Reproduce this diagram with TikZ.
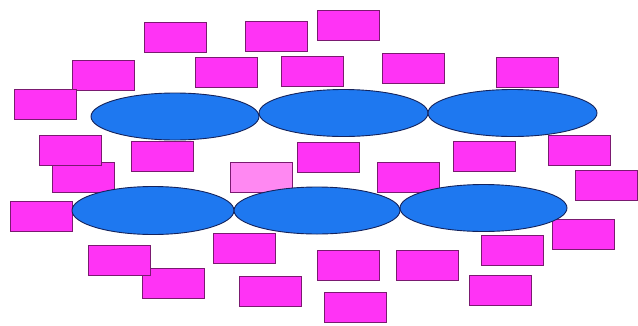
\documentclass[tikz,border=0pt]{standalone}
\usetikzlibrary{shapes.geometric}

\definecolor{tilepink}{HTML}{FF33F5}
\definecolor{tilepale}{HTML}{FF88F2}
\definecolor{tileedge}{HTML}{7A1A70}
\definecolor{blobblue}{HTML}{1E78F0}
\definecolor{blobedge}{HTML}{14235C}

\begin{document}
\begin{tikzpicture}[
    x=1pt, y=-1pt,
    tile/.style={rectangle, draw=tileedge, fill=tilepink, line width=0.9pt, inner sep=0pt, minimum width=62pt, minimum height=30pt},
    paletile/.style={tile, fill=tilepale},
    blob/.style={ellipse, draw=blobedge, fill=blobblue, line width=0.9pt, inner sep=0pt, minimum height=47pt}
]
\useasboundingbox (0,0) rectangle (638,325);

% tiles, top rows
\node[tile] (r1) at (175,37.5) {};
\node[tile] (r2) at (276,36.5) {};
\node[tile] (r3) at (348.5,25.5) {};
\node[tile] (r4) at (103.5,75.5) {};
\node[tile] (r5) at (226.5,72.5) {};
\node[tile] (r6) at (312,71) {};
\node[tile] (r7) at (413.5,68) {};
\node[tile] (r8) at (527,72.5) {};
\node[tile] (r9) at (45,104) {};

% tiles between the two rows
\node[tile] (r11) at (83,177.5) {};
\node[tile] (r10) at (70,150.5) {};
\node[tile] (r12) at (162,156) {};
\node[paletile] (r13) at (261,177.5) {};
\node[tile] (r14) at (328,157) {};
\node[tile] (r15) at (408.5,177.5) {};
\node[tile] (r16) at (484.5,156.5) {};
\node[tile] (r17) at (579,150.5) {};
\node[tile] (r18) at (606,185) {};

% tiles, bottom rows
\node[tile] (r19) at (41,216.5) {};
\node[tile] (r21) at (173,283.5) {};
\node[tile] (r20) at (119.5,260) {};
\node[tile] (r22) at (244.5,248.5) {};
\node[tile] (r23) at (270,291.5) {};
\node[tile] (r24) at (348.5,265.5) {};
\node[tile] (r25) at (355.5,307.5) {};
\node[tile] (r26) at (427.5,265.5) {};
\node[tile] (r27) at (512,250.5) {};
\node[tile] (r28) at (500,290) {};
\node[tile] (r29) at (583.5,234) {};

% blobs on top
\node[blob, minimum width=168pt] (t1) at (175,116.5) {};
\node[blob, minimum width=169pt] (t2) at (343.5,113) {};
\node[blob, minimum width=169pt] (t3) at (512.5,113) {};
\node[blob, minimum width=162pt, minimum height=48pt] (b1) at (153,210.5) {};
\node[blob, minimum width=166pt] (b2) at (317,210.5) {};
\node[blob, minimum width=167pt] (b3) at (483.5,208) {};
\end{tikzpicture}
\end{document}
